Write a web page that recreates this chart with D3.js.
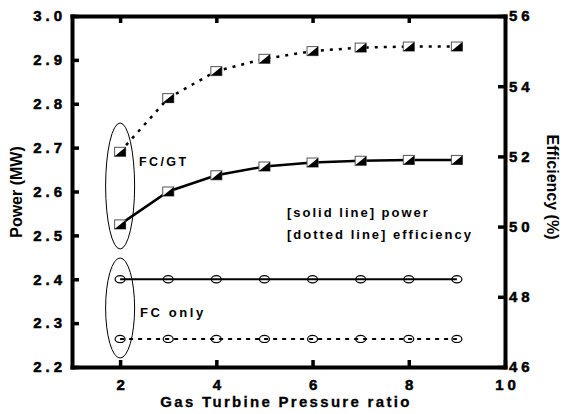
<!DOCTYPE html>
<html>
<head>
<meta charset="utf-8">
<script src="https://cdn.jsdelivr.net/npm/d3@7"></script>
<style>
  body { margin: 0; background: #fff; }
  text { font-family: "Liberation Sans", Arial, sans-serif; font-weight: bold; fill: #000; }
</style>
</head>
<body>
<div id="chart"></div>
<script>
// pressure ratios
const ratio = [2, 3, 4, 5, 6, 7, 8, 9];
// FC/GT hybrid
const hybridPower = [2.525, 2.60, 2.637, 2.657, 2.666, 2.670, 2.672, 2.672];
const hybridEff = [52.13, 53.66, 54.43, 54.78, 55.00, 55.10, 55.13, 55.13];
// FC only (constant)
const fcPower = [2.40, 2.40, 2.40, 2.40, 2.40, 2.40, 2.40, 2.40];
const fcEff = [46.8, 46.8, 46.8, 46.8, 46.8, 46.8, 46.8, 46.8];

const xTicks = [2, 4, 6, 8, 10];
const powerTicks = [2.2, 2.3, 2.4, 2.5, 2.6, 2.7, 2.8, 2.9, 3.0];
const effTicks = [46, 48, 50, 52, 54, 56];

const width = 563, height = 414;
const svg = d3.select("#chart").append("svg")
    .attr("width", width)
    .attr("height", height);

const x = d3.scaleLinear().domain([1, 10]).range([72, 505]);
const yL = d3.scaleLinear().domain([2.2, 3.0]).range([367, 16]);
const yR = d3.scaleLinear().domain([46, 56]).range([367, 16]);

function styleAxis(g) {
    g.select(".domain").attr("stroke-width", 4).attr("stroke-linecap", "square");
    g.selectAll(".tick line").attr("stroke-width", 3.5);
    g.selectAll(".tick text")
        .attr("font-size", 15)
        .attr("letter-spacing", "4px")
        .attr("font-family", "Liberation Sans, Arial, sans-serif")
        .attr("font-weight", "bold")
        .attr("stroke", "#000")
        .attr("stroke-width", 0.5);
}

// bottom axis
svg.append("g")
    .attr("transform", "translate(0,367)")
    .call(d3.axisBottom(x).tickValues(xTicks).tickSize(-7).tickSizeOuter(0).tickPadding(12).tickFormat(d3.format("d")))
    .call(styleAxis)
    .selectAll(".tick text").attr("dx", "2px");

// top axis (ticks only)
svg.append("g")
    .attr("transform", "translate(0,16)")
    .call(d3.axisTop(x).tickValues([2, 4, 6, 8]).tickSize(-7).tickSizeOuter(0).tickFormat(""))
    .call(styleAxis);

// left axis
svg.append("g")
    .attr("transform", "translate(72,0)")
    .call(d3.axisLeft(yL).tickValues(powerTicks).tickSize(-7).tickSizeOuter(0).tickPadding(6).tickFormat(d3.format(".1f")))
    .call(styleAxis);

// right axis
svg.append("g")
    .attr("transform", "translate(505,0)")
    .call(d3.axisRight(yR).tickValues(effTicks).tickSize(-7).tickSizeOuter(0).tickPadding(4))
    .call(styleAxis);

// axis titles
svg.append("text")
    .attr("transform", "translate(22," + 192 + ") rotate(-90)")
    .attr("text-anchor", "middle")
    .attr("font-size", 16)
    .text("Power (MW)");

svg.append("text")
    .attr("transform", "translate(547," + 187 + ") rotate(90)")
    .attr("text-anchor", "middle")
    .attr("font-size", 16)
    .text("Efficiency (%)");

svg.append("text")
    .attr("x", 286)
    .attr("y", 407)
    .attr("text-anchor", "middle")
    .attr("font-size", 15)
    .attr("letter-spacing", "2.3px")
    .attr("stroke", "#000").attr("stroke-width", 0.3)
    .text("Gas Turbine Pressure ratio");

// lines
const powerLine = d3.line().x((d, i) => x(ratio[i])).y(d => yL(d));
const effLine = d3.line().x((d, i) => x(ratio[i])).y(d => yR(d));

svg.append("path").attr("d", powerLine(hybridPower))
    .attr("fill", "none").attr("stroke", "#000").attr("stroke-width", 2.5);
svg.append("path").attr("d", effLine(hybridEff))
    .attr("fill", "none").attr("stroke", "#000").attr("stroke-width", 2.5)
    .attr("stroke-dasharray", "3,6");
svg.append("path").attr("d", powerLine(fcPower))
    .attr("fill", "none").attr("stroke", "#000").attr("stroke-width", 2);
svg.append("path").attr("d", effLine(fcEff))
    .attr("fill", "none").attr("stroke", "#000").attr("stroke-width", 2)
    .attr("stroke-dasharray", "4,5");

// half-filled square markers
function squares(vals, y) {
    const g = svg.append("g");
    const m = g.selectAll("g").data(vals).join("g")
        .attr("transform", (d, i) => `translate(${x(ratio[i])},${y(d)})`);
    m.append("rect").attr("x", -5.5).attr("y", -4.5).attr("width", 11).attr("height", 9)
        .attr("fill", "#fff").attr("stroke", "#555").attr("stroke-width", 1);
    m.append("path").attr("d", "M-5.5,4.5L5.5,-4.5L5.5,4.5Z").attr("fill", "#000");
}
squares(hybridPower, yL);
squares(hybridEff, yR);

// open circle markers
function circles(vals, y) {
    svg.append("g").selectAll("ellipse").data(vals).join("ellipse")
        .attr("cx", (d, i) => x(ratio[i]))
        .attr("cy", d => y(d))
        .attr("rx", 5).attr("ry", 3.6)
        .attr("fill", "none").attr("stroke", "#000").attr("stroke-width", 1.2);
}
circles(fcPower, yL);
circles(fcEff, yR);

// group ellipses
svg.append("ellipse").attr("cx", x(2)).attr("cy", 186).attr("rx", 14.5).attr("ry", 63)
    .attr("fill", "none").attr("stroke", "#000").attr("stroke-width", 1);
svg.append("ellipse").attr("cx", x(2)).attr("cy", 308).attr("rx", 14.5).attr("ry", 50)
    .attr("fill", "none").attr("stroke", "#000").attr("stroke-width", 1);

// annotations
svg.append("text").attr("x", 139).attr("y", 166).attr("font-size", 12.5)
    .attr("letter-spacing", "2.4px").text("FC/GT");
svg.append("text").attr("x", 140).attr("y", 317).attr("font-size", 13)
    .attr("letter-spacing", "2.6px").text("FC only");
svg.append("text").attr("x", 287).attr("y", 217).attr("font-size", 13)
    .attr("letter-spacing", "2px").text("[solid line] power");
svg.append("text").attr("x", 287).attr("y", 239).attr("font-size", 13)
    .attr("letter-spacing", "2px").text("[dotted line] efficiency");
</script>
</body>
</html>
